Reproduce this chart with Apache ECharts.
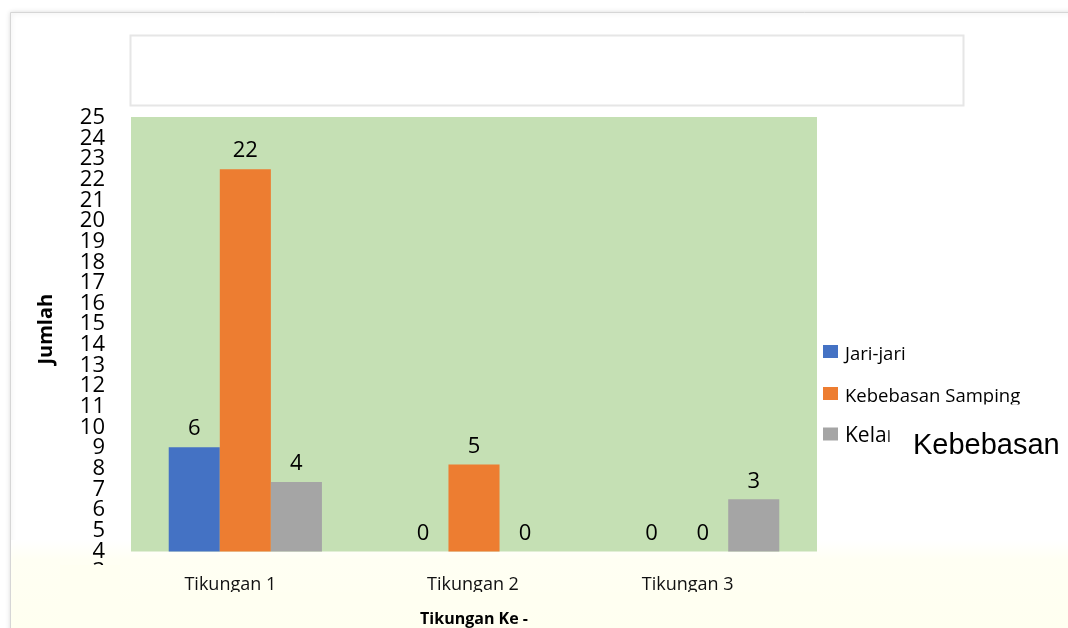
<!DOCTYPE html>
<html>
<head>
<meta charset="utf-8">
<script src="https://cdn.jsdelivr.net/npm/echarts@6/dist/echarts.min.js"></script>
<style>
  html, body { margin: 0; padding: 0; background: #fff; }
  #chart { width: 1068px; height: 628px; }
</style>
</head>
<body>
<div id="chart"></div>
<script>
// ---- data ----
var categories = ['Tikungan 1', 'Tikungan 2', 'Tikungan 3'];
var seriesNames = ['Jari-jari', 'Kebebasan Samping', 'Kelandaian'];
var jariJari = [6, 0, 0];
var kebebasanSamping = [22, 5, 0];
var kelandaian = [4, 0, 3];
var yTickMin = 0, yTickMax = 25, yTickStep = 1;
var strayText = 'Kebebasan';

var FONT = 'Open Sans';
var colors = ['#4472C4', '#ED7D31', '#A5A5A5'];
var yellow = '#FFFFF1';

function barSeries(name, data, color) {
  return {
    name: name, type: 'bar', data: data, xAxisIndex: 0, yAxisIndex: 0,
    barGap: '0%', barCategoryGap: '33%',
    itemStyle: { color: color },
    label: { show: true, position: 'top', distance: 7, color: '#000',
             fontFamily: FONT, fontSize: 22 }
  };
}

function legendItem(name, top, size, iconPath, iconH) {
  return {
    data: [name], left: 823, top: top, orient: 'vertical', padding: 0,
    icon: iconPath, itemWidth: 15, itemHeight: iconH, selectedMode: false,
    textStyle: { fontFamily: FONT, fontSize: size, color: '#000', padding: [0, 0, 0, 2] }
  };
}

var chart = echarts.init(document.getElementById('chart'), null, { renderer: 'canvas' });
chart.setOption({
  backgroundColor: '#ffffff',
  animation: false,
  color: colors,
  grid: [
    { left: 131, top: 117, width: 686, height: 434.5, show: true,
      backgroundColor: '#C5E0B4', borderWidth: 0, containLabel: false, outerBoundsMode: 'none' },
    // label axis: one step of padding beyond each end so 0 and 25 are not min/max labels
    { left: 131, top: 97, width: 686, height: 557.7, show: false, containLabel: false,
      outerBoundsMode: 'none' }
  ],
  xAxis: [
    { type: 'category', data: categories, gridIndex: 0,
      axisLine: { show: false }, axisTick: { show: false },
      axisLabel: {
        margin: 24,
        formatter: function (v, i) { return (i === 1 ? '{b|' : '{a|') + v + '}'; },
        rich: {
          a: { fontFamily: FONT, fontSize: 18, color: '#111', padding: [0, 30, 0, 0] },
          b: { fontFamily: FONT, fontSize: 18, color: '#111', padding: [0, 2, 0, 0] }
        }
      },
      name: 'Tikungan Ke -', nameLocation: 'middle', nameGap: 60,
      nameTextStyle: { fontFamily: FONT, fontSize: 16, fontWeight: 'bold', color: '#000' }
    },
    { type: 'value', gridIndex: 1, show: false }
  ],
  yAxis: [
    { type: 'value', gridIndex: 0, min: yTickMin, max: yTickMax,
      axisLine: { show: false }, axisTick: { show: false },
      axisLabel: { show: false }, splitLine: { show: false },
      name: 'Jumlah', nameLocation: 'middle', nameGap: 74.5, nameRotate: 90,
      nameTextStyle: { fontFamily: FONT, fontSize: 20, fontWeight: 'bold', color: '#000',
                       padding: [0, 0, 0, 10] }
    },
    { type: 'value', gridIndex: 1, min: yTickMin - yTickStep, max: yTickMax + yTickStep,
      interval: yTickStep,
      axisLine: { show: false }, axisTick: { show: false }, splitLine: { show: false },
      axisLabel: { margin: 26, fontFamily: FONT, fontSize: 22, color: '#000', hideOverlap: false,
        formatter: function (v) { return (v < yTickMin || v > yTickMax) ? '' : String(v); } }
    }
  ],
  legend: [
    legendItem(seriesNames[0], 345, 18.5, 'path://M0,0H15V13H0Z M0,20', 20),
    legendItem(seriesNames[1], 387, 18.5, 'path://M0,0H15V13H0Z M0,20', 20),
    legendItem(seriesNames[2], 425.5, 21, 'path://M0,0H15V13H0Z M0,17', 17)
  ],
  series: [
    barSeries(seriesNames[0], jariJari, colors[0]),
    barSeries(seriesNames[1], kebebasanSamping, colors[1]),
    barSeries(seriesNames[2], kelandaian, colors[2])
  ],
  graphic: [
    // outer frame
    { type: 'rect', z: -20, silent: true,
      shape: { x: 10.5, y: 12.5, width: 1100, height: 700 },
      style: { fill: '#ffffff', stroke: '#d6d6d6', lineWidth: 1,
               shadowBlur: 5, shadowColor: 'rgba(0,0,0,0.18)' } },
    // yellow bottom band
    { type: 'rect', z: -10, silent: true,
      shape: { x: 11, y: 540, width: 1060, height: 90 },
      style: { fill: { type: 'linear', x: 0, y: 0, x2: 0, y2: 1,
               colorStops: [{ offset: 0, color: '#ffffff' }, { offset: 0.22, color: '#FFFFF3' },
                            { offset: 1, color: '#FFFFF0' }] } } },
    // empty title box
    { type: 'rect', z: -5, silent: true,
      shape: { x: 130.5, y: 35.5, width: 833, height: 70 },
      style: { fill: '#ffffff', stroke: '#e6e6e6', lineWidth: 2 } },
    // clipping covers
    { type: 'rect', z: 50, silent: true, shape: { x: 60, y: 565, width: 60, height: 70 },
      style: { fill: yellow } },
    { type: 'rect', z: 50, silent: true, shape: { x: 140, y: 592, width: 680, height: 14 },
      style: { fill: yellow } },
    { type: 'rect', z: 50, silent: true, shape: { x: 842, y: 404.5, width: 200, height: 10 },
      style: { fill: '#ffffff' } },
    { type: 'rect', z: 50, silent: true, shape: { x: 889.5, y: 418, width: 180, height: 40 },
      style: { fill: '#ffffff' } },
    // stray text
    { type: 'text', z: 60, silent: true, left: 913, top: 431,
      style: { text: strayText, fontFamily: 'Liberation Sans', fontSize: 29, fill: '#000' } }
  ]
});
</script>
</body>
</html>
